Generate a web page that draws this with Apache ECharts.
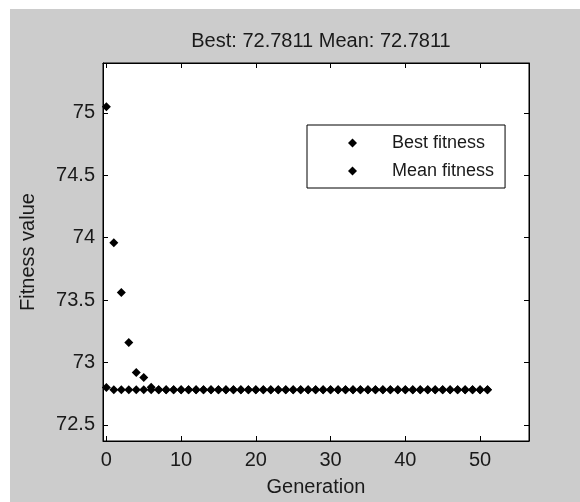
<!DOCTYPE html>
<html>
<head>
<meta charset="utf-8">
<script src="https://cdn.jsdelivr.net/npm/echarts@6/dist/echarts.min.js"></script>
<style>
    html, body { margin: 0; padding: 0; background: #fff; }
    #chart { position: absolute; left: 10px; top: 9px; width: 570px; height: 493px; }
</style>
</head>
<body>
<div id="chart"></div>
<script>
    // data
    let generations = [0, 1, 2, 3, 4, 5, 6, 7, 8, 9, 10, 11, 12, 13, 14, 15, 16, 17, 18, 19, 20,
        21, 22, 23, 24, 25, 26, 27, 28, 29, 30, 31, 32, 33, 34, 35, 36, 37, 38, 39, 40,
        41, 42, 43, 44, 45, 46, 47, 48, 49, 50, 51]
    let bestFitness = [72.798, 72.7811, 72.7811, 72.7811, 72.7811, 72.7811, 72.7811, 72.7811, 72.7811, 72.7811,
        72.7811, 72.7811, 72.7811, 72.7811, 72.7811, 72.7811, 72.7811, 72.7811, 72.7811, 72.7811,
        72.7811, 72.7811, 72.7811, 72.7811, 72.7811, 72.7811, 72.7811, 72.7811, 72.7811, 72.7811,
        72.7811, 72.7811, 72.7811, 72.7811, 72.7811, 72.7811, 72.7811, 72.7811, 72.7811, 72.7811,
        72.7811, 72.7811, 72.7811, 72.7811, 72.7811, 72.7811, 72.7811, 72.7811, 72.7811, 72.7811,
        72.7811, 72.7811]
    let meanFitness = [75.05, 73.96, 73.56, 73.16, 72.92, 72.88, 72.80, 72.7811, 72.7811, 72.7811,
        72.7811, 72.7811, 72.7811, 72.7811, 72.7811, 72.7811, 72.7811, 72.7811, 72.7811, 72.7811,
        72.7811, 72.7811, 72.7811, 72.7811, 72.7811, 72.7811, 72.7811, 72.7811, 72.7811, 72.7811,
        72.7811, 72.7811, 72.7811, 72.7811, 72.7811, 72.7811, 72.7811, 72.7811, 72.7811, 72.7811,
        72.7811, 72.7811, 72.7811, 72.7811, 72.7811, 72.7811, 72.7811, 72.7811, 72.7811, 72.7811,
        72.7811, 72.7811]
    let xTicks = [0, 10, 20, 30, 40, 50]
    let yTicks = [72.5, 73, 73.5, 74, 74.5, 75]

    let font = 'Liberation Sans, Arial, sans-serif'
    let ink = '#1a1a1a'

    let pairs = (ys) => generations.map((g, i) => [g, ys[i]])

    let baseX = {
        type: 'value',
        min: -0.45,
        max: 56.55,
        splitLine: {show: false},
        axisLine: {show: true, onZero: false, lineStyle: {color: '#000', width: 1}},
        axisTick: {show: true, inside: true, length: 5, customValues: xTicks, lineStyle: {color: '#000'}},
        axisLabel: {show: true, customValues: xTicks, margin: 9, color: ink, fontSize: 20, fontFamily: font}
    }
    let baseY = {
        type: 'value',
        min: 72.37,
        max: 75.40,
        splitLine: {show: false},
        axisLine: {show: true, onZero: false, lineStyle: {color: '#000', width: 1}},
        axisTick: {show: true, inside: true, length: 5, customValues: yTicks, lineStyle: {color: '#000'}},
        axisLabel: {show: true, customValues: yTicks, margin: 8, color: ink, fontSize: 20, fontFamily: font}
    }

    let option = {
        backgroundColor: '#cccccc',
        animation: false,
        title: {
            text: 'Best: 72.7811 Mean: 72.7811',
            left: 306,
            top: 17,
            textAlign: 'center',
            textStyle: {color: ink, fontSize: 20, fontWeight: 'normal', fontFamily: font}
        },
        grid: {
            left: 93,
            right: 51,
            top: 54,
            bottom: 59,
            show: true,
            backgroundColor: '#fff',
            borderColor: '#000',
            borderWidth: 1
        },
        legend: {
            orient: 'vertical',
            left: 297,
            top: 116,
            padding: [9, 11, 8, 41],
            itemWidth: 9,
            itemHeight: 9,
            itemGap: 10,
            backgroundColor: '#fff',
            borderColor: '#000',
            borderWidth: 1,
            borderRadius: 0,
            textStyle: {color: ink, fontSize: 18, fontFamily: font, lineHeight: 18, padding: [0, 0, 0, 30]},
            data: ['Best fitness', 'Mean fitness']
        },
        xAxis: [
            Object.assign({}, baseX, {
                position: 'bottom',
                name: 'Generation',
                nameLocation: 'middle',
                nameGap: 36,
                nameTextStyle: {color: ink, fontSize: 20, fontFamily: font}
            }),
            Object.assign({}, baseX, {
                position: 'top',
                axisLabel: {show: false}
            })
        ],
        yAxis: [
            Object.assign({}, baseY, {
                position: 'left',
                name: 'Fitness value',
                nameLocation: 'middle',
                nameGap: 65,
                nameTextStyle: {color: ink, fontSize: 20, fontFamily: font}
            }),
            Object.assign({}, baseY, {
                position: 'right',
                axisLabel: {show: false}
            })
        ],
        series: [
            {
                name: 'Best fitness',
                type: 'scatter',
                symbol: 'diamond',
                symbolSize: 9,
                itemStyle: {color: '#000', opacity: 1},
                data: pairs(bestFitness)
            },
            {
                name: 'Mean fitness',
                type: 'scatter',
                symbol: 'diamond',
                symbolSize: 9,
                itemStyle: {color: '#000', opacity: 1},
                data: pairs(meanFitness)
            }
        ]
    }

    let myChart = echarts.init(document.getElementById('chart'))
    myChart.setOption(option)
</script>
</body>
</html>
